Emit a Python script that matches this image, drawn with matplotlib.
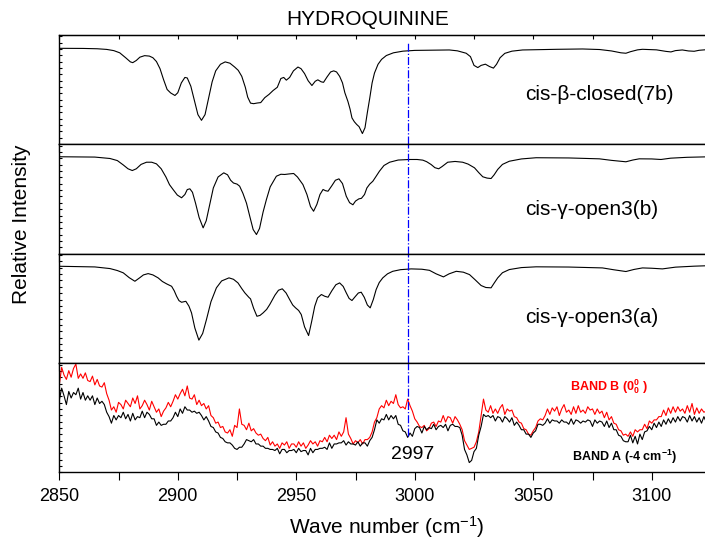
import matplotlib
matplotlib.use('Agg')
import matplotlib.pyplot as plt
from matplotlib.ticker import MultipleLocator
import numpy as np

# 字体
plt.rcParams['font.family'] = ['Liberation Sans', 'DejaVu Sans']
plt.rcParams['mathtext.fontset'] = 'custom'
plt.rcParams['mathtext.rm'] = 'Liberation Sans'

# ---- computed spectra ----
x_7b = [2850, 2860, 2866, 2870, 2873, 2875.5, 2878, 2880, 2881, 2882.5, 2884, 2886, 2888, 2889.5,
        2891, 2892.5, 2894, 2895.5, 2897, 2898.8, 2900, 2901.5, 2903, 2904, 2905.5, 2907, 2908.5,
        2910, 2911.5, 2913, 2914.5, 2916, 2918, 2920, 2922, 2924, 2925.5, 2927, 2928.5, 2929.5,
        2930.7, 2932, 2933.5, 2935, 2936.7, 2938.5, 2940.2, 2942, 2943.5, 2944.7, 2945.8, 2947.2,
        2948.8, 2950.7, 2952, 2953.5, 2955, 2956.6, 2958, 2959.1, 2960.5, 2961.5, 2963, 2964.5,
        2965.8, 2967, 2968.3, 2969.5, 2970.5, 2971.8, 2972.7, 2973.5, 2974.5, 2975.5, 2976.5,
        2977.9, 2979, 2980, 2981, 2982, 2983, 2984.5, 2986, 2988, 2991, 2995, 3000, 3014.6, 3018,
        3021.7, 3023.5, 3025, 3026.6, 3028, 3029.8, 3031.5, 3033.2, 3034.5, 3036, 3038, 3041,
        3045.5, 3060, 3070.8, 3078, 3083, 3087, 3089.1, 3091, 3094, 3096.1, 3102, 3106, 3108.1,
        3110, 3112.9, 3115.5, 3117.9, 3120, 3125]
y_7b = [0.876, 0.875, 0.872, 0.866, 0.855, 0.835, 0.79, 0.752, 0.745, 0.765, 0.795, 0.809, 0.805, 0.79,
        0.755, 0.69, 0.59, 0.50, 0.468, 0.445, 0.47, 0.56, 0.61, 0.605, 0.53, 0.40, 0.27,
        0.218, 0.27, 0.42, 0.57, 0.67, 0.73, 0.752, 0.74, 0.705, 0.675, 0.62, 0.52, 0.43,
        0.375, 0.37, 0.376, 0.38, 0.425, 0.455, 0.49, 0.52, 0.60, 0.61, 0.585, 0.61,
        0.67, 0.705, 0.69, 0.645, 0.58, 0.536, 0.575, 0.588, 0.57, 0.565, 0.615, 0.66,
        0.67, 0.66, 0.62, 0.56, 0.47, 0.39, 0.32, 0.24, 0.205, 0.18, 0.16,
        0.097, 0.15, 0.29, 0.42, 0.56, 0.65, 0.73, 0.775, 0.81, 0.835, 0.85, 0.857, 0.861, 0.853,
        0.831, 0.80, 0.72, 0.70, 0.72, 0.731, 0.71, 0.695, 0.73, 0.79, 0.83, 0.85,
        0.861, 0.867, 0.870, 0.865, 0.852, 0.835, 0.831, 0.845, 0.862, 0.867, 0.862, 0.848, 0.843,
        0.855, 0.861, 0.852, 0.849, 0.858, 0.867]

x_open3b = [2850, 2865, 2871.4, 2874.5, 2877, 2879, 2880.8, 2882.5, 2884.5, 2886.8, 2889, 2891, 2893,
            2895, 2896.5, 2898, 2899.8, 2901.6, 2903, 2904, 2905.1, 2906.2, 2907.5, 2909, 2910.7, 2912,
            2913.5, 2915, 2917, 2919.4, 2921, 2922.3, 2923.5, 2925, 2926.1, 2927.5, 2929, 2930.5,
            2931.8, 2933.2, 2934.5, 2936, 2937.4, 2939, 2941.6, 2943.5, 2945.1, 2947, 2948.9, 2950.5,
            2952.8, 2954.5, 2956, 2957.3, 2958.7, 2960, 2961.3, 2962.3, 2963.4, 2965, 2966.5, 2968,
            2969.5, 2971.1, 2972.5, 2973.9, 2975, 2976.4, 2977.5, 2978.8, 2979.8, 2981, 2982.3,
            2983.5, 2985.1, 2987, 2989.4, 2993, 2997.8, 3001, 3003.4, 3005, 3006.9, 3008.5, 3010.1,
            3011.5, 3013.9, 3017, 3020.2, 3022.5, 3025.2, 3027, 3028.7, 3030.5, 3032.2, 3033.5, 3035,
            3037, 3039.9, 3045, 3051.2, 3065, 3077.9, 3083, 3089.1, 3092, 3094.7, 3100, 3103.9, 3108,
            3115, 3125]
y_open3b = [0.885, 0.882, 0.869, 0.85, 0.81, 0.775, 0.759, 0.775, 0.815, 0.835, 0.835, 0.82, 0.775,
            0.70, 0.63, 0.586, 0.535, 0.51, 0.54, 0.585, 0.592, 0.56, 0.46, 0.33, 0.235, 0.30,
            0.45, 0.60, 0.70, 0.738, 0.72, 0.67, 0.645, 0.635, 0.616, 0.55, 0.46, 0.33,
            0.22, 0.174, 0.23, 0.38, 0.494, 0.61, 0.707, 0.725, 0.723, 0.728, 0.732, 0.70,
            0.631, 0.54, 0.43, 0.387, 0.45, 0.54, 0.586, 0.575, 0.570, 0.62, 0.67, 0.683,
            0.64, 0.524, 0.465, 0.446, 0.48, 0.500, 0.505, 0.54, 0.60, 0.635, 0.661,
            0.70, 0.753, 0.805, 0.835, 0.855, 0.860, 0.860, 0.854, 0.84, 0.814, 0.785, 0.775,
            0.795, 0.835, 0.842, 0.835, 0.818, 0.784, 0.74, 0.702, 0.69, 0.686, 0.72, 0.769,
            0.815, 0.844, 0.865, 0.876, 0.874, 0.866, 0.852, 0.839, 0.855, 0.866, 0.865, 0.860, 0.872,
            0.880, 0.885]

x_open3a = [2850, 2865, 2871.4, 2874.5, 2877, 2879.5, 2881.9, 2884, 2885.5, 2887.5, 2889.5, 2891.7,
            2893.5, 2895.3, 2897.4, 2898.5, 2899.5, 2900.5, 2901.6, 2903.4, 2904.7, 2905.8, 2907.2,
            2908.9, 2910.5, 2912.1, 2914, 2916.3, 2918.5, 2921.6, 2923.5, 2925.4, 2927, 2928.3, 2930,
            2930.7, 2932, 2933.4, 2934.7, 2936, 2937.5, 2938.8, 2941, 2942.5, 2944.1, 2945.7, 2947.2,
            2948.5, 2949.7, 2951, 2952.1, 2953.5, 2955.2, 2956.5, 2957.8, 2959, 2960.6, 2962, 2963.4,
            2965, 2966.7, 2968.3, 2969.8, 2971.1, 2972.3, 2973.5, 2975, 2976.2, 2977.4, 2978.7, 2980,
            2981.2, 2982.5, 2983.7, 2985, 2986.5, 2988.5, 2990.7, 2994, 2998.5, 3003, 3006.2, 3009,
            3012.1, 3014.5, 3017.5, 3020.5, 3023.1, 3025.5, 3028, 3030, 3032.2, 3033.5, 3035, 3037,
            3039.9, 3045, 3051.2, 3065, 3079.2, 3084, 3089.1, 3092.5, 3096.1, 3100, 3104.5, 3110,
            3118, 3125]
y_open3a = [0.884, 0.878, 0.863, 0.845, 0.824, 0.78, 0.747, 0.78, 0.805, 0.817, 0.805, 0.778,
            0.745, 0.723, 0.701, 0.66, 0.610, 0.57, 0.555, 0.564, 0.52, 0.458, 0.32,
            0.209, 0.27, 0.397, 0.56, 0.687, 0.75, 0.778, 0.765, 0.732, 0.68, 0.641, 0.60,
            0.586, 0.50, 0.427, 0.435, 0.458, 0.49, 0.534, 0.62, 0.665, 0.678, 0.64, 0.580,
            0.53, 0.504, 0.48, 0.443, 0.33, 0.251, 0.38, 0.519, 0.595, 0.626, 0.61, 0.601,
            0.66, 0.715, 0.732, 0.70, 0.641, 0.59, 0.571, 0.61, 0.64, 0.647, 0.60, 0.53,
            0.504, 0.58, 0.671, 0.735, 0.778, 0.815, 0.838, 0.853, 0.860, 0.857, 0.847, 0.815,
            0.787, 0.815, 0.838, 0.83, 0.808, 0.76, 0.708, 0.69, 0.687, 0.73, 0.778, 0.825,
            0.854, 0.872, 0.879, 0.877, 0.869, 0.852, 0.836, 0.855, 0.869, 0.866, 0.860, 0.876,
            0.885, 0.890]

# ---- experimental spectra, 1 cm-1 steps from 2850 to 3125 ----
x_exp = np.arange(2850, 3126)
band_b = [0.80, 0.96, 0.89, 0.85, 0.93, 0.87, 0.95, 0.99, 0.86, 0.90,
          0.86, 0.91, 0.84, 0.83, 0.88, 0.80, 0.85, 0.79, 0.78, 0.82,
          0.72, 0.66, 0.57, 0.60, 0.55, 0.64, 0.62, 0.58, 0.66, 0.63,
          0.60, 0.68, 0.63, 0.70, 0.58, 0.61, 0.66, 0.62, 0.57, 0.65,
          0.60, 0.55, 0.58, 0.51, 0.56, 0.59, 0.64, 0.60, 0.65, 0.71,
          0.67, 0.72, 0.76, 0.70, 0.79, 0.68, 0.67, 0.71, 0.62, 0.66,
          0.61, 0.63, 0.58, 0.61, 0.52, 0.50, 0.45, 0.46, 0.41, 0.42,
          0.37, 0.36, 0.39, 0.33, 0.43, 0.41, 0.58, 0.44, 0.43, 0.39,
          0.45, 0.38, 0.40, 0.36, 0.34, 0.35, 0.31, 0.29, 0.32, 0.25,
          0.28, 0.24, 0.26, 0.22, 0.27, 0.25, 0.28, 0.22, 0.26, 0.26,
          0.23, 0.28, 0.24, 0.27, 0.22, 0.25, 0.29, 0.26, 0.28, 0.24,
          0.29, 0.28, 0.32, 0.28, 0.34, 0.31, 0.34, 0.30, 0.37, 0.33,
          0.37, 0.50, 0.35, 0.31, 0.26, 0.29, 0.27, 0.30, 0.26, 0.30,
          0.30, 0.32, 0.37, 0.46, 0.50, 0.58, 0.61, 0.59, 0.66, 0.61,
          0.65, 0.63, 0.71, 0.62, 0.59, 0.60, 0.58, 0.67, 0.61, 0.56,
          0.49, 0.46, 0.42, 0.41, 0.43, 0.38, 0.40, 0.45, 0.46, 0.42,
          0.47, 0.46, 0.52, 0.46, 0.51, 0.50, 0.45, 0.51, 0.48, 0.44,
          0.39, 0.29, 0.25, 0.21, 0.22, 0.23, 0.28, 0.37, 0.52, 0.67,
          0.57, 0.55, 0.61, 0.54, 0.58, 0.54, 0.59, 0.62, 0.53, 0.58,
          0.56, 0.57, 0.51, 0.50, 0.46, 0.45, 0.40, 0.39, 0.35, 0.34,
          0.38, 0.41, 0.47, 0.49, 0.48, 0.52, 0.58, 0.53, 0.59, 0.56,
          0.60, 0.52, 0.58, 0.62, 0.55, 0.57, 0.53, 0.60, 0.54, 0.61,
          0.55, 0.57, 0.54, 0.60, 0.57, 0.58, 0.53, 0.58, 0.54, 0.56,
          0.50, 0.55, 0.48, 0.51, 0.45, 0.44, 0.39, 0.38, 0.34, 0.35,
          0.33, 0.37, 0.33, 0.39, 0.37, 0.39, 0.39, 0.44, 0.40, 0.47,
          0.45, 0.48, 0.48, 0.51, 0.51, 0.57, 0.52, 0.59, 0.54, 0.60,
          0.55, 0.60, 0.56, 0.58, 0.54, 0.61, 0.55, 0.63, 0.53, 0.59,
          0.54, 0.58, 0.55, 0.56, 0.53, 0.57]
band_a = [0.66, 0.77, 0.70, 0.62, 0.74, 0.68, 0.73, 0.71, 0.77, 0.67,
          0.73, 0.66, 0.70, 0.66, 0.70, 0.62, 0.68, 0.63, 0.65, 0.62,
          0.55, 0.51, 0.45, 0.52, 0.48, 0.52, 0.50, 0.55, 0.49, 0.53,
          0.47, 0.54, 0.48, 0.51, 0.50, 0.56, 0.50, 0.55, 0.53, 0.49,
          0.49, 0.43, 0.46, 0.43, 0.44, 0.44, 0.47, 0.47, 0.50, 0.55,
          0.51, 0.58, 0.54, 0.60, 0.57, 0.57, 0.55, 0.56, 0.54, 0.55,
          0.52, 0.48, 0.51, 0.47, 0.42, 0.41, 0.37, 0.36, 0.32, 0.31,
          0.28, 0.27, 0.27, 0.25, 0.22, 0.21, 0.23, 0.23, 0.26, 0.30,
          0.29, 0.28, 0.30, 0.26, 0.26, 0.24, 0.24, 0.22, 0.22, 0.21,
          0.21, 0.20, 0.22, 0.17, 0.21, 0.21, 0.18, 0.20, 0.20, 0.21,
          0.18, 0.22, 0.19, 0.20, 0.20, 0.16, 0.22, 0.18, 0.21, 0.21,
          0.22, 0.22, 0.23, 0.21, 0.27, 0.22, 0.26, 0.26, 0.27, 0.27,
          0.29, 0.25, 0.28, 0.26, 0.26, 0.25, 0.28, 0.24, 0.27, 0.27,
          0.24, 0.29, 0.32, 0.39, 0.48, 0.45, 0.49, 0.48, 0.53, 0.48,
          0.52, 0.49, 0.52, 0.44, 0.43, 0.38, 0.37, 0.32, 0.36, 0.33,
          0.40, 0.42, 0.41, 0.36, 0.42, 0.39, 0.41, 0.40, 0.44, 0.39,
          0.42, 0.43, 0.41, 0.44, 0.38, 0.43, 0.44, 0.42, 0.42, 0.41,
          0.34, 0.21, 0.16, 0.09, 0.11, 0.19, 0.22, 0.34, 0.42, 0.53,
          0.51, 0.52, 0.50, 0.52, 0.47, 0.51, 0.50, 0.46, 0.51, 0.49,
          0.46, 0.50, 0.43, 0.46, 0.43, 0.39, 0.39, 0.35, 0.35, 0.32,
          0.36, 0.38, 0.44, 0.44, 0.43, 0.45, 0.49, 0.45, 0.48, 0.47,
          0.47, 0.45, 0.48, 0.46, 0.46, 0.44, 0.49, 0.44, 0.48, 0.47,
          0.45, 0.47, 0.46, 0.48, 0.47, 0.42, 0.48, 0.45, 0.47, 0.46,
          0.42, 0.47, 0.41, 0.45, 0.39, 0.39, 0.34, 0.33, 0.29, 0.28,
          0.28, 0.34, 0.27, 0.33, 0.26, 0.35, 0.30, 0.37, 0.38, 0.42,
          0.39, 0.45, 0.41, 0.46, 0.42, 0.48, 0.44, 0.49, 0.45, 0.50,
          0.46, 0.51, 0.47, 0.51, 0.50, 0.46, 0.52, 0.47, 0.51, 0.46,
          0.50, 0.45, 0.51, 0.46, 0.50, 0.47]

marker_x = 2997

# 创建图形
fig, axes = plt.subplots(4, 1, figsize=(7.05, 5.43), dpi=100, sharex=True)
fig.subplots_adjust(left=0.0841, right=1.0085, top=0.936, bottom=0.130, hspace=0)

calc = [(x_7b, y_7b, 'cis-\u03b2-closed(7b)', 0.452),
        (x_open3b, y_open3b, 'cis-\u03b3-open3(b)', 0.403),
        (x_open3a, y_open3a, 'cis-\u03b3-open3(a)', 0.4155)]

for ax, (xs, ys, name, ty) in zip(axes[:3], calc):
    ax.plot(xs, ys, color='black', lw=0.8)
    ax.text(0.7146, ty, name, transform=ax.transAxes, fontsize=15,
            ha='left', va='center')

ax4 = axes[3]
ax4.plot(x_exp, band_b, color='red', lw=0.8)
ax4.plot(x_exp, band_a, color='black', lw=0.8)
ax4.text(0.7837, 0.787, r'BAND B (0$\mathregular{^0_0}$ )', transform=ax4.transAxes,
         fontsize=9, fontweight='bold', color='red', ha='left', va='center')
ax4.text(0.786, 0.143, r'BAND A (-4 cm$\mathregular{^{-1}}$)', transform=ax4.transAxes,
         fontsize=9, fontweight='bold', color='black', ha='left', va='center')
ax4.text(0.5085, 0.165, '2997', transform=ax4.transAxes, fontsize=14,
         ha='left', va='center')

# 蓝色虚线
spans = [(0.0, 0.925), (0.0, 1.0), (0.0, 1.0), (0.33, 1.0)]
for ax, (lo, hi) in zip(axes, spans):
    ax.axvline(marker_x, ymin=lo, ymax=hi, color='blue', lw=0.9, ls='-.')

for ax in axes:
    ax.set_xlim(2850, 3125)
    ax.set_ylim(0, 1)
    ax.xaxis.set_major_locator(MultipleLocator(50))
    ax.xaxis.set_minor_locator(MultipleLocator(25))
    ax.yaxis.set_major_locator(MultipleLocator(0.058))
    ax.tick_params(axis='y', which='both', direction='in', length=2, width=0.8,
                   left=True, right=False, labelleft=False)
    ax.tick_params(axis='x', which='both', direction='out', length=6, width=0.8,
                   bottom=True, top=False, labelsize=13, pad=5)
    for s in ax.spines.values():
        s.set_linewidth(1.0)

# 顶部刻度向内
sec = axes[0].secondary_xaxis('top')
sec.xaxis.set_major_locator(MultipleLocator(25))
sec.tick_params(direction='in', length=3, width=0.8, labeltop=False)

fig.text(0.522, 0.965, 'HYDROQUININE', fontsize=15, ha='center', va='center')
fig.text(0.031, 0.5875, 'Relative Intensity', fontsize=15, rotation=90,
         ha='center', va='center')
fig.text(0.549, 0.0295, r'Wave number (cm$\mathregular{^{-1}}$)', fontsize=15,
         ha='center', va='center')

plt.savefig('out.png', dpi=100)
plt.close(fig)
